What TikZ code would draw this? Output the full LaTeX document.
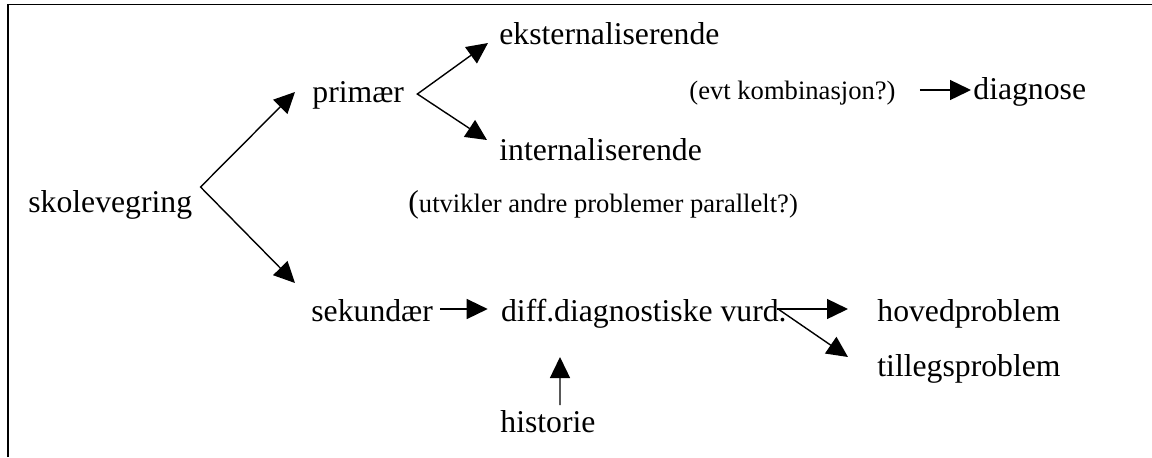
\documentclass[tikz,border=0pt]{standalone}
\usepackage{fontspec}
\setmainfont{Liberation Serif}
\usetikzlibrary{positioning, arrows.meta, calc}

\begin{document}
\begin{tikzpicture}[
    x=0.5pt, y=-0.5pt,
    word/.style={inner sep=0pt, anchor=base west, font=\fontsize{15.85pt}{19pt}\selectfont},
    note/.style={inner sep=0pt, anchor=base west, font=\fontsize{13.3pt}{16pt}\selectfont},
    arr/.style={-{Triangle[length=10.5pt, width=10pt]}, line width=0.7pt},
    fork/.style={{Triangle[length=10.5pt, width=10pt]}-{Triangle[length=10.5pt, width=10pt]}, line width=0.7pt},
    frame/.style={line width=0.8pt},
  ]
    \useasboundingbox (0,0) rectangle (1152,457);

    % Frame (only top and left edge are shown)
    \draw[frame] (8,457) -- (8,4.5) -- (1152,4.5);

    % Root
    \node[word] (skole) at (28,212) {skolevegring};

    % Primary branch
    \node[word] (prim) at (312,102) {primær};
    \node[word] (ekst) at (499,44) {eksternaliserende};
    \node[word] (intern) at (499,160) {internaliserende};
    \node[note] (evt) at (689,99) {(evt kombinasjon?)};
    \node[word] (diag) at (973,99) {diagnose};
    \node[note] (utv) at (408,212) {{\fontsize{15.85pt}{19pt}\selectfont(}utvikler andre problemer parallelt?)};

    % Secondary branch
    \node[word] (sek) at (311,321) {sekundær};
    \node[word] (diff) at (500.7,321) {diff.diagnostiske vurd.};
    \node[word] (hoved) at (877,321) {hovedproblem};
    \node[word] (tilleg) at (877,376) {tillegsproblem};
    \node[word] (hist) at (500,432) {historie};

    % Forks
    \coordinate (skfork) at ($(skole.base east)+(8,-25)$);
    \coordinate (primfork) at ($(prim.base east)+(13,-8)$);
    \draw[fork] ($(prim.base west)+(-17,-10)$) -- (skfork) -- ($(sek.base west)+(-16,-38)$);
    \draw[fork] ($(ekst.base west)+(-11,-1)$) -- (primfork) -- ($(intern.base west)+(-12,-20)$);

    % Arrows
    \draw[arr] ($(evt.base east)+(24,-9)$) -- ($(diag.base west)+(-2,-9)$);
    \draw[arr] ($(sek.base east)+(6.5,-12)$) -- ($(diff.base west)+(-13,-12)$);
    \draw[arr] ($(diff.base east)+(-10,-12)$) -- ($(hoved.base west)+(-29,-12)$);
    \draw[arr] ($(diff.base east)+(-9,-12)$) -- ($(tilleg.base west)+(-29,-19)$);
    \draw[arr] ($(hist.base west)+(60,-27)$) -- ($(diff.base west)+(59.3,36)$);

  \end{tikzpicture}
\end{document}
